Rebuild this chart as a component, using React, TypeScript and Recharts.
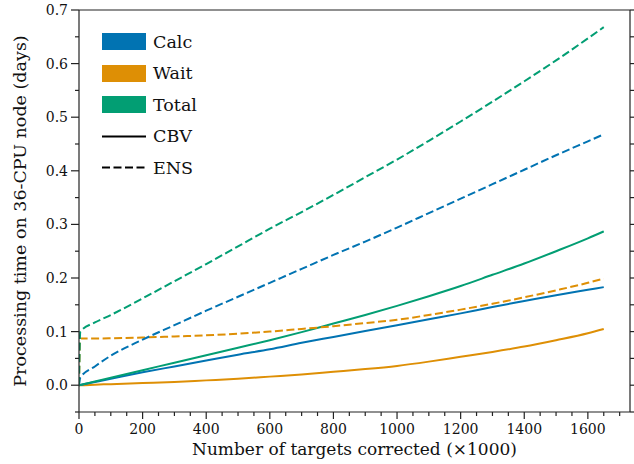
import React from "react";
import { LineChart, Line, XAxis, YAxis, ReferenceLine } from "recharts";

// number of targets corrected (x1000)
const targets = [0, 4, 50, 100, 200, 300, 400, 500, 600, 700, 800, 900, 1000, 1100, 1200, 1300, 1400, 1500, 1600, 1650];

// CBV (solid)
const cbvCalc = [0, 0.0005, 0.006, 0.012, 0.024, 0.035, 0.046, 0.057, 0.067, 0.079, 0.09, 0.101, 0.112, 0.123, 0.134, 0.146, 0.157, 0.168, 0.178, 0.183];
const cbvWait = [0, 0, 0.001, 0.002, 0.004, 0.006, 0.009, 0.012, 0.016, 0.02, 0.025, 0.03, 0.036, 0.044, 0.053, 0.062, 0.072, 0.084, 0.097, 0.105];
const cbvTotal = [0, 0.0005, 0.007, 0.014, 0.028, 0.042, 0.056, 0.07, 0.084, 0.099, 0.115, 0.131, 0.148, 0.166, 0.185, 0.206, 0.227, 0.25, 0.274, 0.287];

// ENS (dashed)
const ensCalc = [0, 0.014, 0.035, 0.055, 0.085, 0.112, 0.139, 0.165, 0.191, 0.217, 0.243, 0.268, 0.294, 0.321, 0.348, 0.375, 0.402, 0.429, 0.455, 0.468];
const ensWait = [0, 0.087, 0.087, 0.0875, 0.089, 0.091, 0.093, 0.096, 0.1, 0.105, 0.11, 0.116, 0.122, 0.131, 0.141, 0.152, 0.164, 0.177, 0.191, 0.199];
const ensTotal = [0, 0.1, 0.117, 0.131, 0.162, 0.194, 0.226, 0.259, 0.292, 0.323, 0.355, 0.388, 0.421, 0.456, 0.492, 0.529, 0.567, 0.606, 0.647, 0.668];

const xTicks = Array.from({ length: 35 }, (_, i) => i * 50);
const yTicks = Array.from({ length: 16 }, (_, i) => -0.05 + i * 0.05);

const BLUE = "#0173B2";
const ORANGE = "#DE8F05";
const GREEN = "#029E73";
const FONT = "'DejaVu Serif', serif";
const DASH = "8 3.5";

const data = targets.map((t, i) => ({
  t,
  cbvCalc: cbvCalc[i],
  cbvWait: cbvWait[i],
  cbvTotal: cbvTotal[i],
  ensCalc: ensCalc[i],
  ensWait: ensWait[i],
  ensTotal: ensTotal[i],
}));

const isMajorY = (v: number) => Math.abs(v * 10 - Math.round(v * 10)) < 1e-6;

const LeftTick = (props: any) => {
  const { x, y, payload } = props;
  const v = payload.value;
  const major = isMajorY(v);
  return (
    <g>
      <line x1={x - (major ? 8 : 4)} x2={x} y1={y} y2={y} stroke="#222" strokeWidth={1.2} />
      {major && v > -0.01 && (
        <text x={x - 11} y={y} dy="0.36em" textAnchor="end" fontSize={14} fontFamily={FONT} fill="#111">
          {Math.abs(v).toFixed(1)}
        </text>
      )}
    </g>
  );
};

const RightTick = (props: any) => {
  const { x, y } = props;
  return <line x1={x} x2={x + 4} y1={y} y2={y} stroke="#222" strokeWidth={1.2} />;
};

const BottomTick = (props: any) => {
  const { x, y, payload } = props;
  const v = payload.value;
  const major = v % 200 === 0;
  return (
    <g>
      <line x1={x} x2={x} y1={y} y2={y + (major ? 7 : 4)} stroke="#222" strokeWidth={1.2} />
      {major && v <= 1600 && (
        <text x={x} y={y + 22} textAnchor="middle" fontSize={14} fontFamily={FONT} fill="#111">
          {v}
        </text>
      )}
    </g>
  );
};

const legendRows = [
  { label: "Calc", color: BLUE, kind: "box" },
  { label: "Wait", color: ORANGE, kind: "box" },
  { label: "Total", color: GREEN, kind: "box" },
  { label: "CBV", color: "#000", kind: "solid" },
  { label: "ENS", color: "#000", kind: "dash" },
];

function ChartLegend() {
  return (
    <div style={{ position: "absolute", left: 102, top: 26, fontFamily: FONT, fontSize: 17.5, color: "#111" }}>
      {legendRows.map((r) => (
        <div key={r.label} style={{ display: "flex", alignItems: "center", height: 31.5 }}>
          <svg width={44} height={17} style={{ marginRight: 7 }}>
            {r.kind === "box" && <rect x={0} y={0} width={44} height={17} fill={r.color} />}
            {r.kind === "solid" && <line x1={0} x2={44} y1={8.5} y2={8.5} stroke={r.color} strokeWidth={2} />}
            {r.kind === "dash" && (
              <line x1={0} x2={44} y1={8.5} y2={8.5} stroke={r.color} strokeWidth={2} strokeDasharray={DASH} />
            )}
          </svg>
          <span>{r.label}</span>
        </div>
      ))}
    </div>
  );
}

export default function App() {
  const axisLine = { stroke: "#222", strokeWidth: 1.2 };
  return (
    <div style={{ position: "absolute", left: 0, top: 0, width: 634, height: 464 }}>
      <LineChart width={634} height={464} data={data} margin={{ top: 10, right: 0, bottom: 0, left: 0 }}>
        <XAxis
          dataKey="t"
          type="number"
          domain={[0, 1732.5]}
          allowDataOverflow
          ticks={xTicks}
          interval={0}
          tickSize={0}
          tickMargin={0}
          tick={<BottomTick />}
          axisLine={axisLine}
          height={52}
          label={{
            value: "Number of targets corrected (×1000)",
            position: "insideBottom",
            offset: 9,
            style: { fontFamily: FONT, fontSize: 17, fill: "#111" },
          }}
        />
        <YAxis
          type="number"
          domain={[-0.05, 0.7]}
          allowDataOverflow
          ticks={yTicks}
          interval={0}
          tickSize={0}
          tickMargin={0}
          tick={<LeftTick />}
          axisLine={axisLine}
          width={79}
          label={{
            value: "Processing time on 36-CPU node (days)",
            angle: -90,
            position: "center",
            dx: -19.5,
            style: { fontFamily: FONT, fontSize: 17.5, fill: "#111", textAnchor: "middle" },
          }}
        />
        <YAxis
          yAxisId="right"
          orientation="right"
          type="number"
          domain={[-0.05, 0.7]}
          allowDataOverflow
          ticks={yTicks}
          interval={0}
          tickSize={0}
          tickMargin={0}
          tick={<RightTick />}
          axisLine={axisLine}
          width={4}
        />
        <ReferenceLine y={0.7} stroke="#222" strokeWidth={1.2} ifOverflow="visible" />
        <Line dataKey="cbvWait" stroke={ORANGE} strokeWidth={2} dot={false} type="monotone" isAnimationActive={false} />
        <Line dataKey="cbvCalc" stroke={BLUE} strokeWidth={2} dot={false} type="monotone" isAnimationActive={false} />
        <Line dataKey="cbvTotal" stroke={GREEN} strokeWidth={2} dot={false} type="monotone" isAnimationActive={false} />
        <Line dataKey="ensWait" stroke={ORANGE} strokeWidth={2} strokeDasharray={DASH} dot={false} type="monotone" isAnimationActive={false} />
        <Line dataKey="ensCalc" stroke={BLUE} strokeWidth={2} strokeDasharray={DASH} dot={false} type="monotone" isAnimationActive={false} />
        <Line dataKey="ensTotal" stroke={GREEN} strokeWidth={2} strokeDasharray={DASH} dot={false} type="monotone" isAnimationActive={false} />
      </LineChart>
      <ChartLegend />
    </div>
  );
}
